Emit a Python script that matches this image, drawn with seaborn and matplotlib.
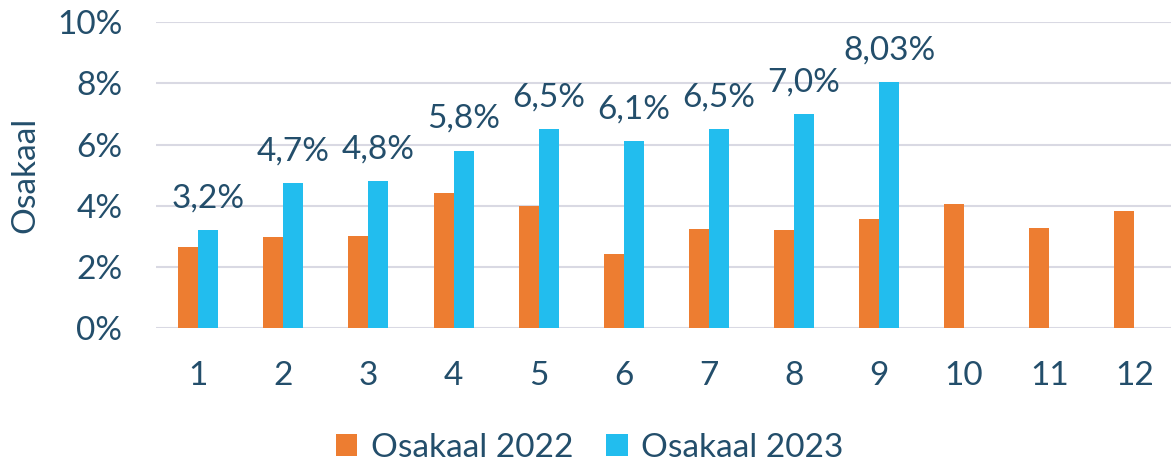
import seaborn as sns
import matplotlib.pyplot as plt
import pandas as pd
import numpy as np

# Monthly share values (%)
months = [1, 2, 3, 4, 5, 6, 7, 8, 9, 10, 11, 12]
share_2022 = [2.65, 2.97, 3.0, 4.41, 3.99, 2.42, 3.24, 3.2, 3.55, 4.05, 3.27, 3.82]
share_2023 = [3.2, 4.74, 4.8, 5.8, 6.5, 6.1, 6.5, 7.0, 8.03, np.nan, np.nan, np.nan]
labels_2023 = ['3,2%', '4,7%', '4,8%', '5,8%', '6,5%', '6,1%', '6,5%', '7,0%', '8,03%']

text_color = '#234E6B'
colors = ['#ED7D31', '#22BDEE']

df = pd.DataFrame({
    'month': months * 2,
    'value': share_2022 + share_2023,
    'series': ['Osakaal 2022'] * 12 + ['Osakaal 2023'] * 12,
})

sns.set_style('white')
plt.rcParams['font.family'] = ['Lato', 'DejaVu Sans']
fs = 24

fig = plt.figure(figsize=(11.71, 4.62), dpi=100)
ax = fig.add_axes([0.133, 0.29, 0.872, 0.662])

sns.barplot(data=df, x='month', y='value', hue='series', palette=colors,
            width=0.47, saturation=1, ax=ax, linewidth=0)

# data labels on the 2023 bars
blue_bars = [b for b in ax.containers[1] if b is not None]
for bar, lab in zip(blue_bars, labels_2023):
    ax.annotate(lab, (bar.get_x() + bar.get_width() / 2, bar.get_height()),
                xytext=(0, 12), textcoords='offset points', ha='center',
                va='bottom', fontsize=fs, color=text_color)

ax.set_ylim(0, 10)
ax.set_yticks([0, 2, 4, 6, 8, 10])
ax.set_yticklabels(['0%', '2%', '4%', '6%', '8%', '10%'])
ax.yaxis.grid(True, color='#D9D9E3', linewidth=1.5)
ax.set_axisbelow(True)
for s in ax.spines.values():
    s.set_visible(False)
ax.tick_params(axis='both', length=0, labelsize=fs, colors=text_color)
ax.tick_params(axis='y', pad=24)
ax.tick_params(axis='x', pad=24)
ax.set_xlabel('')
ax.set_ylabel('Osakaal', fontsize=fs, color=text_color, labelpad=12)

leg = ax.legend(loc='upper center', bbox_to_anchor=(0.425, -0.245), ncol=2,
                frameon=False, fontsize=fs, handlelength=0.65, handleheight=0.65,
                columnspacing=1.0, handletextpad=0.4)
for t in leg.get_texts():
    t.set_color(text_color)

fig.savefig('out.png', dpi=100)
